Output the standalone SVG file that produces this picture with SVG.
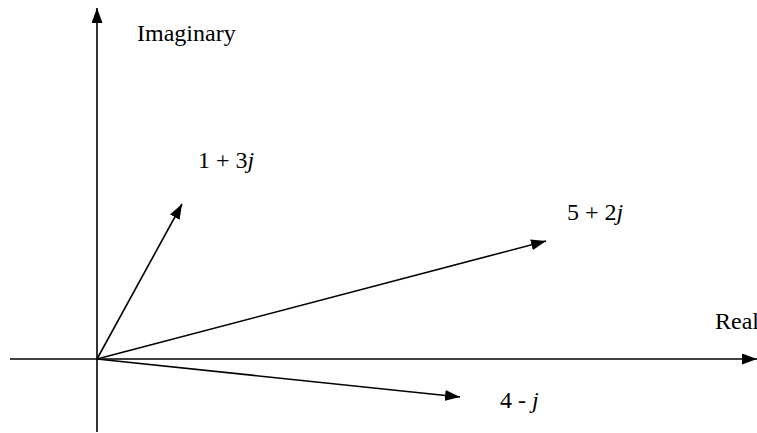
<svg xmlns="http://www.w3.org/2000/svg" width="757" height="433" viewBox="0 0 757 433">
<style>
.ln{stroke:#000;stroke-width:1.6;fill:none}
text{font-family:'Liberation Serif','Times New Roman','DejaVu Serif',serif;font-size:24px;fill:#000}
</style>
<defs>
<marker id="ah" markerUnits="userSpaceOnUse" markerWidth="16" markerHeight="11" refX="15" refY="5.5" orient="auto">
<path d="M0,0 L15,5.5 L0,11 z" fill="#000"/>
</marker>
</defs>
<rect width="757" height="433" fill="#fff"/>
<g id="connectors">
<line class="ln" x1="97" y1="432" x2="97" y2="8" marker-end="url(#ah)"/>
<line class="ln" x1="10" y1="359" x2="757" y2="359" marker-end="url(#ah)"/>
<line class="ln" x1="97" y1="359" x2="182" y2="204" marker-end="url(#ah)"/>
<line class="ln" x1="97" y1="359" x2="546" y2="241" marker-end="url(#ah)"/>
<line class="ln" x1="97" y1="359" x2="460" y2="397" marker-end="url(#ah)"/>
</g>
<g id="imaginary"><text font-family="Liberation Serif, serif" x="137" y="41">Imaginary</text></g>
<g id="real"><text font-family="Liberation Serif, serif" x="715" y="329">Real</text></g>
<g id="v1"><text font-family="Liberation Serif, serif" x="198" y="168">1 + 3<tspan font-style="italic">j</tspan></text></g>
<g id="v2"><text font-family="Liberation Serif, serif" x="567" y="220">5 + 2<tspan font-style="italic">j</tspan></text></g>
<g id="v3"><text font-family="Liberation Serif, serif" x="500" y="408">4 - <tspan font-style="italic">j</tspan></text></g>
</svg>
